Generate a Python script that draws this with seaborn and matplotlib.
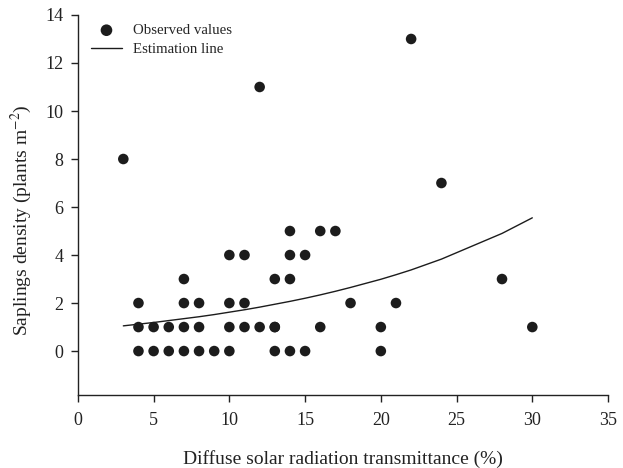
import matplotlib
matplotlib.use("Agg")
import matplotlib.pyplot as plt
import seaborn as sns
import pandas as pd

obs_x = [3, 4, 4, 4, 5, 5, 6, 6, 7, 7, 7, 7, 8, 8, 8, 9,
         10, 10, 10, 10, 11, 11, 11, 12, 12, 13, 13, 13, 13,
         14, 14, 14, 14, 15, 15, 16, 16, 17, 18, 20, 20, 21, 22, 24, 28, 30]
obs_y = [8, 0, 1, 2, 0, 1, 0, 1, 0, 2, 3, 1, 0, 1, 2, 0,
         0, 1, 2, 4, 1, 2, 4, 1, 11, 0, 1, 3, 1,
         0, 3, 4, 5, 0, 4, 1, 5, 5, 2, 0, 1, 2, 13, 7, 3, 1]

# Estimation line
est_x = [3, 4, 5, 6, 7, 8, 9, 10, 11, 12, 13, 14, 15, 16, 17, 18, 20, 21, 22, 24, 28, 30]
est_y = [1.05, 1.12, 1.19, 1.27, 1.35, 1.43, 1.52, 1.62, 1.72, 1.83, 1.95, 2.07, 2.20,
         2.34, 2.49, 2.65, 2.99, 3.18, 3.38, 3.83, 4.90, 5.55]

x_ticks = [0, 5, 10, 15, 20, 25, 30, 35]
y_ticks = [0, 2, 4, 6, 8, 10, 12, 14]

sns.set_style("ticks")
plt.rcParams["font.family"] = ["Liberation Serif", "DejaVu Serif"]
plt.rcParams["mathtext.fontset"] = "stix"

obs = pd.DataFrame({"x": obs_x, "y": obs_y})
est = pd.DataFrame({"x": est_x, "y": est_y})

fig = plt.figure(figsize=(6.23, 4.68), dpi=100)
ax = fig.add_axes([0.125, 0.156, 0.851, 0.812])

sns.scatterplot(data=obs, x="x", y="y", ax=ax, s=58, color="#1c1c1c",
                edgecolor="none", linewidth=0, label="Observed values", zorder=3)
sns.lineplot(data=est, x="x", y="y", ax=ax, color="#1c1c1c", linewidth=1.0,
             label="Estimation line", zorder=2)

ax.set_xlim(0, 35)
ax.set_ylim(-1.83, 14)
ax.set_xticks(x_ticks)
ax.set_yticks(y_ticks)
ax.tick_params(axis="both", labelsize=13, length=5, width=1, direction="out",
               colors="#222222", labelcolor="#222222")
ax.tick_params(axis="x", pad=7)
ax.tick_params(axis="y", pad=5.5)
sns.despine(ax=ax)
for sp in ["left", "bottom"]:
    ax.spines[sp].set_linewidth(1.0)
    ax.spines[sp].set_color("#222222")

ax.set_xlabel("Diffuse solar radiation transmittance (%)", fontsize=14,
              color="#222222")
ax.xaxis.set_label_coords(0.5, -0.145)
ax.set_ylabel("Saplings density (plants m$^{-2}$)", fontsize=14, color="#222222")
ax.yaxis.set_label_coords(-0.083, 0.46)

leg = ax.legend(loc="upper left", frameon=False, fontsize=10.7,
                bbox_to_anchor=(0.0245, 0.977), borderpad=0, borderaxespad=0,
                handlelength=2.1, handletextpad=0.74, labelspacing=0.35,
                markerscale=1.1)

fig.savefig("out.png", dpi=100)
